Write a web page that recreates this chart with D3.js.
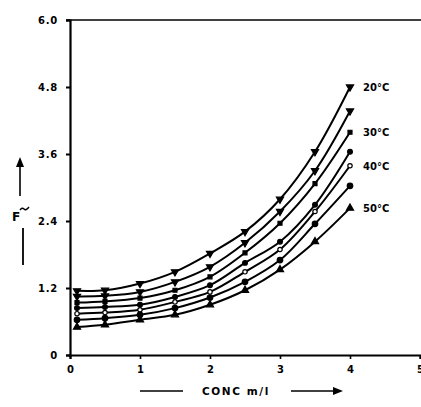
<!DOCTYPE html>
<html>
<head>
<meta charset="utf-8">
<script src="https://cdn.jsdelivr.net/npm/d3@7"></script>
<style>
  body { margin: 0; background: #fff; }
  svg { display: block; }
  .tick text, .lbl { font-family: "DejaVu Sans", sans-serif; font-weight: bold; fill: #000; }
</style>
</head>
<body>
<div id="chart"></div>
<script>
const conc = [0.1, 0.5, 1.0, 1.5, 2.0, 2.5, 3.0, 3.5, 4.0];

const s20 = [1.15, 1.16, 1.28, 1.49, 1.82, 2.21, 2.79, 3.64, 4.80];
const s25 = [1.05, 1.06, 1.13, 1.31, 1.58, 2.01, 2.57, 3.30, 4.37];
const s30 = [0.94, 0.96, 1.02, 1.16, 1.40, 1.83, 2.36, 3.07, 3.99];
const s35 = [0.84, 0.86, 0.90, 1.04, 1.25, 1.65, 2.03, 2.69, 3.64];
const s40 = [0.74, 0.76, 0.81, 0.95, 1.13, 1.49, 1.89, 2.57, 3.39];
const s45 = [0.63, 0.66, 0.72, 0.84, 1.03, 1.31, 1.70, 2.35, 3.03];
const s50 = [0.50, 0.54, 0.63, 0.72, 0.90, 1.16, 1.53, 2.03, 2.63];

const seriesNames = ["20°C", "", "30°C", "", "40°C", "", "50°C"];
const yTicks = [0, 1.2, 2.4, 3.6, 4.8, 6.0];
const yTickLabels = ["0", "1.2", "2.4", "3.6", "4.8", "6.0"];
const xTicks = [0, 1, 2, 3, 4, 5];

const width = 421, height = 407;
const margin = {top: 20, right: 1, bottom: 52, left: 70};

const svg = d3.select("#chart").append("svg")
  .attr("width", width)
  .attr("height", height);

const x = d3.scaleLinear().domain([0, 5]).range([margin.left, width - margin.right]);
const y = d3.scaleLinear().domain([0, 6]).range([height - margin.bottom, margin.top]);

// frame: top line
svg.append("line")
  .attr("x1", x(0) - 4).attr("x2", width)
  .attr("y1", y(6)).attr("y2", y(6))
  .attr("stroke", "#000").attr("stroke-width", 1.6);

// y axis
const yAxis = svg.append("g")
  .attr("transform", `translate(${x(0)},0)`)
  .call(d3.axisLeft(y).tickValues(yTicks).tickSize(4).tickPadding(8)
    .tickFormat((d, i) => yTickLabels[i]));
yAxis.select(".domain").attr("stroke-width", 2.2);
yAxis.selectAll(".tick line").attr("stroke-width", 2);
yAxis.selectAll(".tick text").attr("font-size", 10).attr("letter-spacing", 0.8);

// x axis
const xAxis = svg.append("g")
  .attr("transform", `translate(0,${y(0)})`)
  .call(d3.axisBottom(x).tickValues(xTicks).tickSize(4).tickPadding(7).tickFormat(d3.format("d")));
xAxis.select(".domain").attr("stroke-width", 2.2);
xAxis.selectAll(".tick line").attr("stroke-width", 1.6);
xAxis.selectAll(".tick text").attr("font-size", 10);

// curves
const all = [s20, s25, s30, s35, s40, s45, s50];
const series = all.map((vals, k) => ({
  k: k,
  name: seriesNames[k],
  points: vals.map((v, i) => ({c: conc[i], v: v}))
}));

const line = d3.line()
  .x(d => x(d.c))
  .y(d => y(d.v))
  .curve(d3.curveCatmullRom.alpha(0.5));

svg.selectAll("path.curve")
  .data(series)
  .enter()
  .append("path")
  .attr("class", "curve")
  .attr("d", d => line(d.points))
  .attr("fill", "none")
  .attr("stroke", "#000")
  .attr("stroke-width", 2);

// markers
const markerTypes = [
  {sym: d3.symbolTriangle, rot: 180, fill: "#000", size: 22},
  {sym: d3.symbolTriangle, rot: 180, fill: "#000", size: 22},
  {sym: d3.symbolSquare, rot: 0, fill: "#000", size: 16},
  {sym: d3.symbolCircle, rot: 0, fill: "#000", size: 18},
  {sym: d3.symbolCircle, rot: 0, fill: "#fff", size: 15},
  {sym: d3.symbolCircle, rot: 0, fill: "#000", size: 24},
  {sym: d3.symbolTriangle, rot: 0, fill: "#000", size: 22}
];

series.forEach(s => {
  const m = markerTypes[s.k];
  svg.selectAll(null)
    .data(s.points)
    .enter()
    .append("path")
    .attr("d", d3.symbol().type(m.sym).size(m.size))
    .attr("transform", d => `translate(${x(d.c)},${y(d.v)}) rotate(${m.rot})`)
    .attr("fill", m.fill)
    .attr("stroke", "#000")
    .attr("stroke-width", 1.2);
});

// series labels
svg.selectAll("text.lbl.series")
  .data(series.filter(s => s.name))
  .enter()
  .append("text")
  .attr("class", "lbl series")
  .attr("x", x(4) + 13)
  .attr("y", d => y(d.points[d.points.length - 1].v) + 4)
  .attr("font-size", 10)
  .text(d => d.name);

// x title with arrows
const tY = 391;
svg.append("line").attr("x1", 140).attr("x2", 183).attr("y1", tY).attr("y2", tY)
  .attr("stroke", "#000").attr("stroke-width", 1.6);
svg.append("text").attr("class", "lbl")
  .attr("x", 236).attr("y", tY + 4)
  .attr("text-anchor", "middle")
  .attr("font-size", 10.5).attr("letter-spacing", 1.6)
  .text("CONC m/l");
svg.append("line").attr("x1", 291).attr("x2", 335).attr("y1", tY).attr("y2", tY)
  .attr("stroke", "#000").attr("stroke-width", 1.6);
svg.append("path").attr("d", `M333,${tY - 4}L343,${tY}L333,${tY + 4}Z`).attr("fill", "#000");

// y title: F~ with arrow above and bar below
svg.append("text").attr("class", "lbl")
  .attr("x", 12).attr("y", 221)
  .attr("font-size", 12)
  .text("F");
svg.append("path").attr("d", "M20,210 q2,-3 4,-1 q2,2 5,-2")
  .attr("fill", "none").attr("stroke", "#000").attr("stroke-width", 1.4);
svg.append("line").attr("x1", 23).attr("x2", 23).attr("y1", 228).attr("y2", 265)
  .attr("stroke", "#000").attr("stroke-width", 1.8);
svg.append("line").attr("x1", 20).attr("x2", 20).attr("y1", 164).attr("y2", 196)
  .attr("stroke", "#000").attr("stroke-width", 1.6);
svg.append("path").attr("d", "M16,167L20,157L24,167Z").attr("fill", "#000");
</script>
</body>
</html>
